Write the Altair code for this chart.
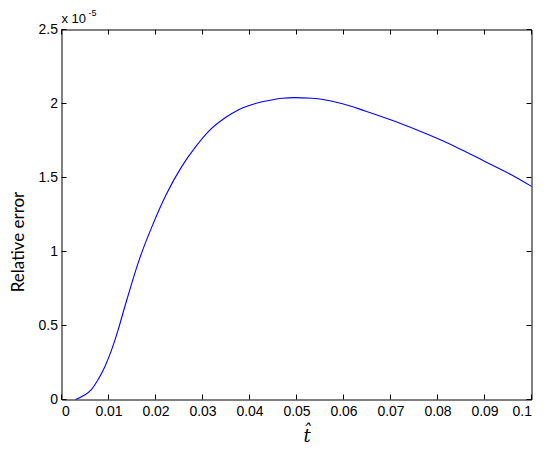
import altair as alt
import pandas as pd

# curve (x = t-hat, y = relative error in units of 1e-5)
t_vals = [0.0030, 0.0049, 0.0063, 0.0077, 0.0092, 0.0106, 0.0120, 0.0134, 0.0148,
          0.0166, 0.0194, 0.0222, 0.0257, 0.0286, 0.0314, 0.0349, 0.0378, 0.0413,
          0.0441, 0.0470, 0.0494, 0.0533, 0.0589, 0.0646, 0.0709, 0.0780, 0.0837,
          0.0900, 0.0956, 0.1000]
err_vals = [0.0, 0.03, 0.065, 0.13, 0.22, 0.33, 0.465, 0.62, 0.77,
            0.95, 1.18, 1.38, 1.58, 1.71, 1.815, 1.905, 1.96, 2.00,
            2.02, 2.035, 2.04, 2.035, 2.005, 1.95, 1.88, 1.79, 1.71,
            1.61, 1.52, 1.44]

x_ticks = [0, 0.01, 0.02, 0.03, 0.04, 0.05, 0.06, 0.07, 0.08, 0.09, 0.1]
y_ticks = [0, 0.5, 1, 1.5, 2, 2.5]

W, H = 470, 370
TL = 5

df = pd.DataFrame({"t": t_vals, "err": err_vals})
dxt = pd.DataFrame({"t": x_ticks})
dyt = pd.DataFrame({"err": y_ticks})

xscale = alt.Scale(domain=[0, 0.1], nice=False, zero=False)
yscale = alt.Scale(domain=[0, 2.5], nice=False)

font = "Liberation Sans"

line = alt.Chart(df).mark_line(color="#0000FF", strokeWidth=1.1, interpolate="monotone").encode(
    x=alt.X("t:Q", scale=xscale,
            axis=alt.Axis(values=x_ticks, format="~g", ticks=False, domain=False, grid=False,
                          labelFont=font, labelFontSize=14, labelColor="black", labelPadding=5,
                          title="t̂", titleFont="DejaVu Serif", titleFontStyle="italic",
                          titleFontWeight="normal", titleFontSize=18, titleColor="black",
                          titleX=245, titleY=37, titleAlign="center", titleBaseline="middle")),
    y=alt.Y("err:Q", scale=yscale,
            axis=alt.Axis(values=y_ticks, format="~g", ticks=False, domain=False, grid=False,
                          labelFont=font, labelFontSize=14, labelColor="black", labelPadding=4,
                          title="Relative error", titleFont="Lato", titleFontWeight="normal",
                          titleFontSize=17, titleColor="black", titleAngle=270,
                          titleX=-43, titleY=212, titleAlign="center", titleBaseline="middle")),
)

tick_style = dict(color="black", strokeWidth=1)
bottom_ticks = alt.Chart(dxt).mark_rule(**tick_style).encode(
    x=alt.X("t:Q", scale=xscale), y=alt.value(H), y2=alt.value(H - TL))
top_ticks = alt.Chart(dxt).mark_rule(**tick_style).encode(
    x=alt.X("t:Q", scale=xscale), y=alt.value(0), y2=alt.value(TL))
left_ticks = alt.Chart(dyt).mark_rule(**tick_style).encode(
    y=alt.Y("err:Q", scale=yscale), x=alt.value(0), x2=alt.value(TL))
right_ticks = alt.Chart(dyt).mark_rule(**tick_style).encode(
    y=alt.Y("err:Q", scale=yscale), x=alt.value(W), x2=alt.value(W - TL))

exp_base = alt.Chart(pd.DataFrame({"s": ["x 10"]})).mark_text(
    font=font, fontSize=13, align="left", baseline="alphabetic", color="black").encode(
    text="s:N", x=alt.value(0), y=alt.value(-7))
exp_sup = alt.Chart(pd.DataFrame({"s": ["-5"]})).mark_text(
    font=font, fontSize=9, align="left", baseline="alphabetic", color="black").encode(
    text="s:N", x=alt.value(27), y=alt.value(-14))

chart = alt.layer(line, bottom_ticks, top_ticks, left_ticks, right_ticks, exp_base, exp_sup).properties(
    width=W, height=H,
    autosize=alt.AutoSizeParams(type="none"),
    padding={"left": 53.5, "top": 21.5, "right": 10, "bottom": 56},
).configure(background="white").configure_view(stroke="black", strokeWidth=1)

chart.save("out.html", embed_options={"renderer": "svg", "actions": False})
